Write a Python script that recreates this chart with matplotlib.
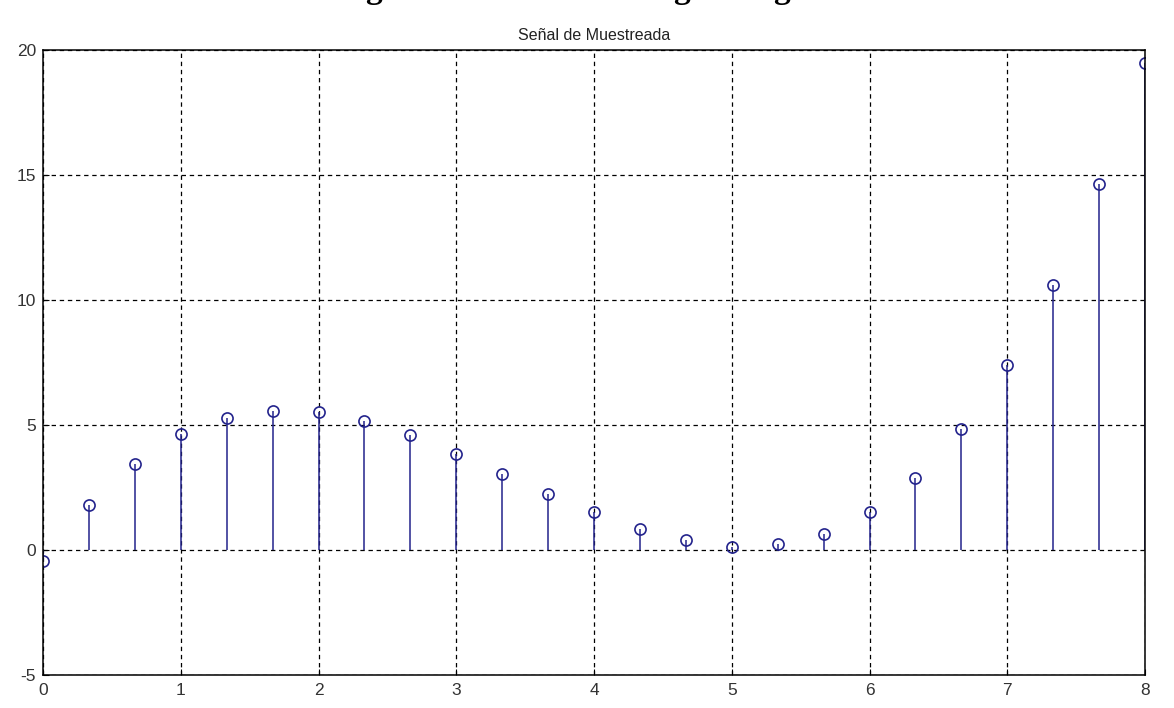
import numpy as np
import matplotlib.pyplot as plt

plt.rcParams['axes.unicode_minus'] = False

# muestras cada 1/3 de unidad entre 0 y 8
n = np.arange(25)
t = n / 3.0
x = [-0.45, 1.8, 3.45, 4.65, 5.3, 5.57, 5.52, 5.15, 4.6, 3.85,
     3.05, 2.25, 1.53, 0.85, 0.4, 0.12, 0.24, 0.63, 1.53, 2.9,
     4.85, 7.4, 10.6, 14.65, 19.5]

xticks = [0, 1, 2, 3, 4, 5, 6, 7, 8]
yticks = [-5, 0, 5, 10, 15, 20]
azul = '#23238c'

W, H = 1174, 708
fig = plt.figure(figsize=(W / 100, H / 100), dpi=100)
ax = fig.add_axes([43 / W, 1 - 675 / H, 1102 / W, 625 / H])

markers, stems, base = ax.stem(t, x, basefmt=' ')
plt.setp(stems, color=azul, linewidth=1.1)
plt.setp(markers, marker='o', markersize=8, markerfacecolor='none',
         markeredgecolor=azul, markeredgewidth=1.2)

ax.set_xlim(0, 8)
ax.set_ylim(-5, 20)
ax.set_xticks(xticks)
ax.set_yticks(yticks)
ax.grid(True, color='black', linestyle=(0, (3.5, 3)), linewidth=0.9)
ax.set_axisbelow(True)
for s in ax.spines.values():
    s.set_linewidth(1.1)
ax.tick_params(direction='in', length=4, labelsize=12.5, colors='black')
ax.tick_params(axis='x', pad=6)
ax.tick_params(axis='y', pad=5)
for lab in ax.get_xticklabels() + ax.get_yticklabels():
    lab.set_color('#333333')
    lab.set_family('Liberation Sans')

ax.set_title('Señal de Muestreada', fontsize=11.5, family='Liberation Sans',
             color='#222222', pad=7)

# restos del pie de texto que queda cortado arriba
for gx in [373, 682, 782]:
    fig.text(gx / W, 1 + 2 / H, 'g', fontsize=24, fontweight='bold',
             family='Liberation Serif', ha='center', va='baseline')

fig.savefig('out.png', dpi=100, facecolor='white')
